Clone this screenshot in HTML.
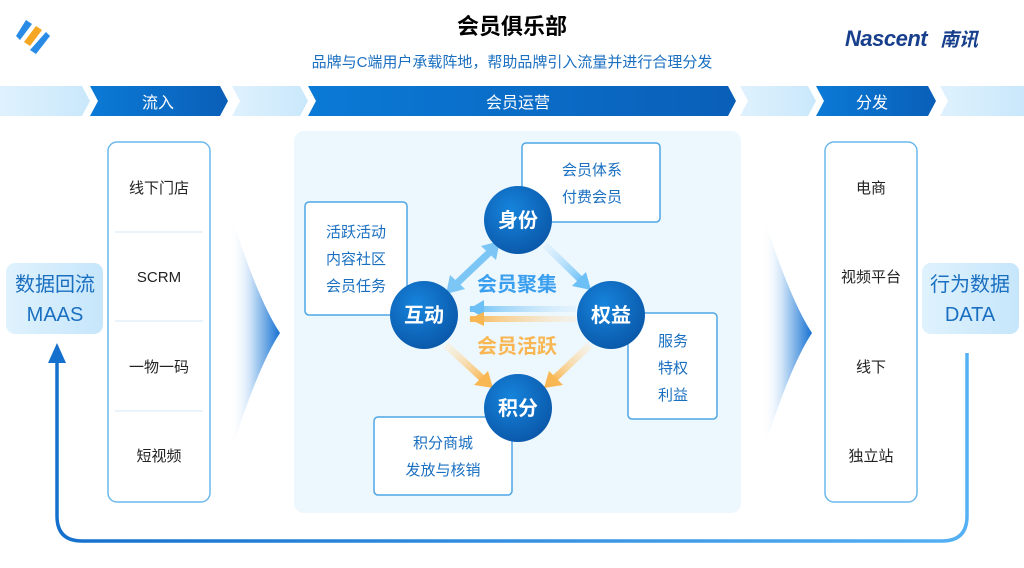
<!DOCTYPE html>
<html><head><meta charset="utf-8"><style>
body{margin:0;width:1024px;height:568px;background:#fff;overflow:hidden;font-family:"Liberation Sans","Noto Sans CJK SC",sans-serif}
svg{display:block}
text{font-family:"Liberation Sans","Noto Sans CJK SC",sans-serif}
</style></head><body>
<svg width="1024" height="568" viewBox="0 0 1024 568">
<defs>
<linearGradient id="dk" x1="0" x2="1"><stop offset="0" stop-color="#0a7ad6"/><stop offset="1" stop-color="#0a5fb8"/></linearGradient>
<linearGradient id="lt" x1="0" x2="1"><stop offset="0" stop-color="#dff1fd"/><stop offset="1" stop-color="#c9e8fb"/></linearGradient>
<linearGradient id="fun" x1="0" x2="1"><stop offset="0" stop-color="#fff" stop-opacity="0"/><stop offset="0.4" stop-color="#cfe4f8"/><stop offset="1" stop-color="#1672d2"/></linearGradient>
<linearGradient id="tag" x1="0" x2="1"><stop offset="0" stop-color="#dff2fd"/><stop offset="1" stop-color="#c6e6fb"/></linearGradient>
<linearGradient id="loop" x1="0" x2="1"><stop offset="0" stop-color="#1470cc"/><stop offset="1" stop-color="#55b0f4"/></linearGradient>
<radialGradient id="cir" cx="0.4" cy="0.35" r="0.7"><stop offset="0" stop-color="#1684dc"/><stop offset="1" stop-color="#0a57a8"/></radialGradient>
<linearGradient id="ab1" x1="1" y1="0" x2="0" y2="0"><stop offset="0" stop-color="#cfe9fb" stop-opacity="0.3"/><stop offset="1" stop-color="#6cc0f6"/></linearGradient>
<linearGradient id="ao1" x1="1" y1="0" x2="0" y2="0"><stop offset="0" stop-color="#fde6c0" stop-opacity="0.3"/><stop offset="1" stop-color="#f9b754"/></linearGradient>
<linearGradient id="ab2" x1="0" y1="0" x2="1" y2="1"><stop offset="0" stop-color="#d6edfc" stop-opacity="0.4"/><stop offset="1" stop-color="#6cc0f6"/></linearGradient>
<linearGradient id="ao2" x1="0" y1="0" x2="1" y2="1"><stop offset="0" stop-color="#fdeccc" stop-opacity="0.4"/><stop offset="1" stop-color="#f9b754"/></linearGradient>
<linearGradient id="ao3" x1="1" y1="0" x2="0" y2="1"><stop offset="0" stop-color="#fdeccc" stop-opacity="0.4"/><stop offset="1" stop-color="#f9b754"/></linearGradient>
</defs>
<!-- logo -->
<g transform="translate(16,20)">
<polygon points="10,0 16,4 4,20 0,16" fill="#2a8be6"/>
<polygon points="20,6 26,10 14,26 8,22" fill="#f5a623"/>
<polygon points="30,12 34,16 20,34 14,30" fill="#2a8be6"/>
</g>
<text x="512" y="34" text-anchor="middle" font-size="22" font-weight="bold" fill="#000">会员俱乐部</text>
<text x="512" y="67" text-anchor="middle" font-size="15" fill="#1a6fc0">品牌与C端用户承载阵地，帮助品牌引入流量并进行合理分发</text>
<text x="845" y="46" font-size="22" font-weight="bold" font-style="italic" fill="#173f8c" letter-spacing="-0.5">Nascent</text>
<text x="940" y="46" font-size="19" font-weight="bold" font-style="italic" fill="#173f8c">南讯</text>
<!-- banner -->
<polygon points="0,86 82,86 90,101 82,116 0,116" fill="url(#lt)"/>
<polygon points="90,86 220,86 228,101 220,116 90,116 98,101" fill="url(#dk)"/>
<polygon points="232,86 300,86 308,101 300,116 232,116 240,101" fill="url(#lt)"/>
<polygon points="308,86 728,86 736,101 728,116 308,116 316,101" fill="url(#dk)"/>
<polygon points="740,86 808,86 816,101 808,116 740,116 748,101" fill="url(#lt)"/>
<polygon points="816,86 928,86 936,101 928,116 816,116 824,101" fill="url(#dk)"/>
<polygon points="940,86 1024,86 1024,116 940,116 948,101" fill="url(#lt)"/>
<text x="158" y="108" text-anchor="middle" font-size="16" fill="#fff">流入</text>
<text x="518" y="108" text-anchor="middle" font-size="16" fill="#fff">会员运营</text>
<text x="872" y="108" text-anchor="middle" font-size="16" fill="#fff">分发</text>
<!-- loop arrow -->
<path d="M57,352 V516 Q57,541 82,541 H942 Q967,541 967,516 V353" fill="none" stroke="url(#loop)" stroke-width="3.5"/>
<polygon points="48,363 57,343 66,363" fill="#1470cc"/>
<!-- tags -->
<rect x="6" y="263" width="97" height="71" rx="9" fill="url(#tag)"/>
<text x="55" y="291" text-anchor="middle" font-size="20" fill="#1a6fc0">数据回流</text>
<text x="55" y="321" text-anchor="middle" font-size="20" fill="#1a6fc0">MAAS</text>
<rect x="922" y="263" width="97" height="71" rx="9" fill="url(#tag)"/>
<text x="970" y="291" text-anchor="middle" font-size="20" fill="#1a6fc0">行为数据</text>
<text x="970" y="321" text-anchor="middle" font-size="20" fill="#1a6fc0">DATA</text>
<!-- lists -->
<rect x="108" y="142" width="102" height="360" rx="9" fill="#fff" stroke="#6cb8ec" stroke-width="1.5"/>
<g stroke="#dcecf9" stroke-width="1.2"><line x1="115" y1="232" x2="203" y2="232"/><line x1="115" y1="321" x2="203" y2="321"/><line x1="115" y1="411" x2="203" y2="411"/>
<line x1="832" y1="232" x2="910" y2="232"/><line x1="832" y1="321" x2="910" y2="321"/><line x1="832" y1="411" x2="910" y2="411"/></g>
<g font-size="15" fill="#222" text-anchor="middle">
<text x="159" y="193">线下门店</text><text x="159" y="282">SCRM</text><text x="159" y="372">一物一码</text><text x="159" y="461">短视频</text>
</g>
<rect x="825" y="142" width="92" height="360" rx="9" fill="#fff" stroke="#6cb8ec" stroke-width="1.5"/>
<g font-size="15" fill="#222" text-anchor="middle">
<text x="871" y="193">电商</text><text x="871" y="282">视频平台</text><text x="871" y="372">线下</text><text x="871" y="461">独立站</text>
</g>
<!-- funnels -->
<path d="M230,212 Q258,300 280,333 Q258,366 230,455 Z" fill="url(#fun)"/>
<path d="M762,212 Q790,300 812,333 Q790,366 762,455 Z" fill="url(#fun)"/>
<!-- center panel -->
<rect x="294" y="131" width="447" height="382" rx="10" fill="#edf7fe"/>
<g fill="#fff" stroke="#4ea6e6" stroke-width="1.5">
<rect x="522" y="143" width="138" height="79" rx="4"/>
<rect x="305" y="202" width="102" height="113" rx="4"/>
<rect x="628" y="313" width="89" height="106" rx="4"/>
<rect x="374" y="417" width="138" height="78" rx="4"/>
</g>
<g font-size="15" fill="#1a6fc0" text-anchor="middle">
<text x="592" y="175">会员体系</text><text x="592" y="202">付费会员</text>
<text x="356" y="237">活跃活动</text><text x="356" y="264">内容社区</text><text x="356" y="291">会员任务</text>
<text x="673" y="346">服务</text><text x="673" y="373">特权</text><text x="673" y="400">利益</text>
<text x="443" y="448">积分商城</text><text x="443" y="475">发放与核销</text>
</g>
<!-- arrows -->
<g>
<line x1="493" y1="249" x2="455" y2="285" stroke="#7cc6f6" stroke-width="7"/>
<polygon points="446,294 450,275 465,289" fill="#7cc6f6"/>
<polygon points="500,241 496,260 481,246" fill="#7cc6f6"/>
<line x1="545" y1="245" x2="582" y2="281" stroke="url(#ab2)" stroke-width="7"/>
<polygon points="591,290 572,286 586,272" fill="#6cc0f6"/>
<rect x="470" y="306" width="106" height="6" fill="url(#ab1)"/>
<polygon points="469,309 484,300 484,318" fill="#6cc0f6"/>
<rect x="470" y="316" width="106" height="6" fill="url(#ao1)"/>
<polygon points="469,319 484,312 484,326" fill="#f9b754"/>
<line x1="446" y1="345" x2="484" y2="380" stroke="url(#ao2)" stroke-width="7"/>
<polygon points="493,388 474,385 488,371" fill="#f9b754"/>
<line x1="590" y1="345" x2="553" y2="380" stroke="url(#ao3)" stroke-width="7"/>
<polygon points="544,388 549,371 563,385" fill="#f9b754"/>
</g>
<text x="517" y="291" text-anchor="middle" font-size="20" font-weight="bold" fill="#3a9fee">会员聚集</text>
<text x="517" y="353" text-anchor="middle" font-size="20" font-weight="bold" fill="#f9b754">会员活跃</text>
<g>
<circle cx="518" cy="220" r="34" fill="url(#cir)"/>
<circle cx="424" cy="315" r="34" fill="url(#cir)"/>
<circle cx="611" cy="315" r="34" fill="url(#cir)"/>
<circle cx="518" cy="408" r="34" fill="url(#cir)"/>
</g>
<g font-size="20" font-weight="bold" fill="#fff" text-anchor="middle">
<text x="518" y="227">身份</text><text x="424" y="322">互动</text><text x="611" y="322">权益</text><text x="518" y="415">积分</text>
</g>
</svg>
</body></html>
